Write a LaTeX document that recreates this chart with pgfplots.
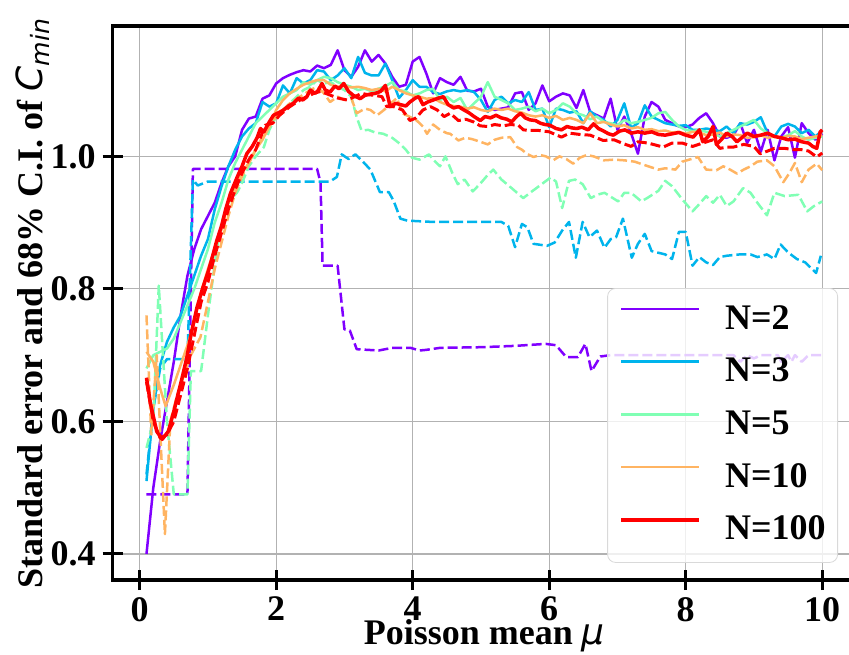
\documentclass[border=0pt]{standalone}
\usepackage{fontspec}
\setmainfont{Liberation Serif}
\newfontfamily\djv{DejaVu Sans}
\usepackage{pgfplots}
\pgfplotsset{compat=1.18}
\definecolor{cA}{RGB}{128,0,255}
\definecolor{cB}{RGB}{0,180,236}
\definecolor{cC}{RGB}{128,255,180}
\definecolor{cD}{RGB}{255,180,98}
\definecolor{cE}{RGB}{255,0,0}
\newcommand{\bigf}{\fontsize{18}{21}\selectfont\bfseries}
\begin{document}
\begin{tikzpicture}
\begin{axis}[
  at={(56.35pt,37pt)}, anchor=south west,
  scale only axis, width=371.65pt, height=277pt,
  xmin=-0.395, xmax=10.495, ymin=0.3607, ymax=1.1967,
  xtick={0,2,4,6,8,10}, ytick={0.4,0.6,0.8,1.0},
  xtick pos=bottom, ytick pos=left,
  tick align=center, major tick length=10pt,
  every tick/.style={black, line width=1.5pt},
  axis line style={line width=1.6pt},
  grid=major, major grid style={draw=black!30, line width=0.6pt},
  /pgf/number format/assume math mode=true,
  ticklabel style={font=\bigf},
  yticklabel style={/pgf/number format/.cd, fixed, fixed zerofill, precision=1},
  xlabel={Poisson mean {\djv\itshape\mdseries μ}},
  ylabel={Standard error and 68\% C.I. of {\djv\itshape\mdseries C\textsubscript{min}}},
  label style={font=\bigf},
  xlabel style={at={(axis description cs:0.5,-0.116)}, anchor=base},
  ylabel style={at={(axis description cs:-0.108,0.5)}, anchor=center},
  legend style={at={(axis description cs:0.9758,0.527)}, anchor=north east,
    draw=black!15, rounded corners=4pt, fill=white, fill opacity=0.8, text opacity=1,
    font=\bigf, inner xsep=6pt, inner ysep=7.3pt, row sep=9.35pt,
    nodes={inner sep=0pt, text height=13pt, text depth=4pt},
    /tikz/every odd column/.append style={column sep=12pt}},
  legend cell align=left,
  legend image code/.code={\draw[#1] (0pt,5.5pt) -- (39pt,5.5pt);},
  every axis plot/.append style={line width=1.25pt, line join=round},
]
% ---------- N=2 ----------
\addplot[cA] coordinates {(0.1,0.40) (0.2,0.50) (0.3,0.57) (0.4,0.63) (0.5,0.69) (0.6,0.76) (0.7,0.82) (0.8,0.86) (0.9,0.89) (1.0,0.91) (1.1,0.93) (1.2,0.96) (1.3,0.985) (1.4,1.00) (1.5,1.04) (1.6,1.057) (1.7,1.06) (1.8,1.087) (1.9,1.092) (2.0,1.110) (2.1,1.118) (2.2,1.123) (2.3,1.127) (2.4,1.130) (2.5,1.128) (2.6,1.137) (2.7,1.133) (2.8,1.138) (2.9,1.160) (3.0,1.130) (3.1,1.120) (3.2,1.135) (3.3,1.160) (3.4,1.143) (3.5,1.153) (3.6,1.140) (3.7,1.120) (3.8,1.105) (3.9,1.108) (4.0,1.143) (4.1,1.150) (4.2,1.125) (4.3,1.095) (4.4,1.118) (4.5,1.112) (4.6,1.108) (4.7,1.120) (4.8,1.099) (4.9,1.098) (5.0,1.102) (5.1,1.075) (5.2,1.070) (5.3,1.072) (5.4,1.074) (5.5,1.095) (5.6,1.097) (5.7,1.070) (5.8,1.080) (5.9,1.107) (6.0,1.083) (6.1,1.090) (6.2,1.095) (6.3,1.092) (6.4,1.073) (6.5,1.100) (6.6,1.067) (6.7,1.062) (6.8,1.057) (6.9,1.087) (7.0,1.040) (7.1,1.060) (7.2,1.035) (7.3,1.004) (7.4,1.060) (7.5,1.082) (7.6,1.075) (7.7,1.055) (7.8,1.050) (7.9,1.045) (8.0,1.044) (8.1,1.048) (8.2,1.058) (8.3,1.065) (8.4,1.050) (8.5,1.030) (8.6,1.028) (8.7,1.032) (8.8,1.050) (8.9,1.020) (9.0,1.040) (9.1,1.007) (9.2,1.040) (9.3,0.994) (9.4,1.030) (9.5,1.044) (9.6,0.998) (9.7,1.050) (9.8,1.035) (9.9,1.025) (10.0,1.034)};
\addlegendentry{N=2}
\addplot[cA, dash pattern=on 5pt off 2pt, forget plot] coordinates {(0.1,0.49) (0.7,0.49) (0.78,0.981) (2.6,0.981) (2.65,0.96) (2.68,0.835) (2.9,0.835) (3.0,0.739) (3.08,0.737) (3.18,0.709) (3.5,0.707) (3.7,0.711) (3.97,0.711) (4.1,0.707) (4.2,0.708) (4.4,0.711) (5.0,0.712) (5.5,0.714) (5.95,0.717) (6.1,0.715) (6.25,0.697) (6.42,0.697) (6.53,0.717) (6.62,0.676) (6.75,0.698) (6.9,0.70) (8.0,0.70) (8.7,0.70) (8.8,0.69) (8.9,0.70) (9.0,0.695) (9.1,0.70) (9.35,0.70) (9.4,0.69) (9.5,0.70) (9.55,0.69) (9.6,0.70) (9.7,0.69) (9.8,0.70) (10.0,0.70)};
% ---------- N=3 ----------
\addplot[cB] coordinates {(0.1,0.51) (0.2,0.62) (0.3,0.685) (0.4,0.72) (0.5,0.742) (0.6,0.760) (0.7,0.79) (0.8,0.82) (0.9,0.85) (1.0,0.875) (1.1,0.92) (1.2,0.955) (1.3,0.985) (1.4,1.010) (1.5,1.030) (1.6,1.042) (1.7,1.050) (1.8,1.082) (1.9,1.075) (2.0,1.080) (2.1,1.107) (2.2,1.095) (2.3,1.118) (2.4,1.110) (2.5,1.115) (2.6,1.130) (2.7,1.128) (2.8,1.115) (2.9,1.122) (3.0,1.133) (3.1,1.118) (3.2,1.150) (3.3,1.126) (3.4,1.122) (3.5,1.122) (3.6,1.140) (3.7,1.115) (3.8,1.088) (3.9,1.100) (4.0,1.115) (4.1,1.105) (4.2,1.105) (4.3,1.097) (4.4,1.094) (4.5,1.098) (4.6,1.100) (4.7,1.098) (4.8,1.100) (4.9,1.097) (5.0,1.085) (5.1,1.067) (5.2,1.085) (5.3,1.090) (5.4,1.080) (5.5,1.085) (5.6,1.082) (5.7,1.097) (5.8,1.070) (5.9,1.072) (6.0,1.044) (6.1,1.072) (6.2,1.070) (6.3,1.066) (6.4,1.068) (6.5,1.050) (6.6,1.068) (6.7,1.060) (6.8,1.055) (6.9,1.045) (7.0,1.055) (7.1,1.080) (7.2,1.043) (7.3,1.050) (7.4,1.077) (7.5,1.060) (7.6,1.055) (7.7,1.050) (7.8,1.048) (7.9,1.046) (8.0,1.047) (8.1,1.040) (8.2,1.040) (8.3,1.042) (8.4,1.040) (8.5,1.038) (8.6,1.045) (8.7,1.035) (8.8,1.050) (8.9,1.048) (9.0,1.052) (9.1,1.059) (9.2,1.035) (9.3,1.030) (9.4,1.045) (9.5,1.049) (9.6,1.045) (9.7,1.035) (9.8,1.040) (9.9,1.030) (10.0,1.039)};
\addlegendentry{N=3}
\addplot[cB, dash pattern=on 5pt off 2pt, forget plot] coordinates {(0.1,0.52) (0.2,0.62) (0.3,0.68) (0.4,0.694) (0.7,0.694) (0.78,0.965) (0.85,0.956) (1.0,0.962) (2.79,0.962) (2.89,0.969) (2.96,1.003) (3.06,0.996) (3.16,1.003) (3.28,0.991) (3.38,0.98) (3.52,0.946) (3.65,0.946) (3.72,0.933) (3.82,0.906) (3.92,0.903) (4.3,0.901) (5.30,0.901) (5.40,0.895) (5.50,0.863) (5.60,0.898) (5.68,0.893) (5.77,0.868) (5.97,0.865) (6.08,0.870) (6.19,0.888) (6.29,0.901) (6.39,0.847) (6.49,0.901) (6.59,0.878) (6.70,0.888) (6.81,0.862) (6.90,0.875) (6.98,0.878) (7.08,0.906) (7.21,0.847) (7.30,0.868) (7.40,0.883) (7.50,0.857) (7.70,0.852) (7.80,0.845) (7.90,0.886) (8.00,0.886) (8.10,0.835) (8.20,0.848) (8.30,0.840) (8.40,0.836) (8.50,0.848) (8.60,0.850) (8.79,0.852) (8.95,0.852) (9.05,0.848) (9.19,0.852) (9.30,0.845) (9.39,0.867) (9.50,0.855) (9.63,0.845) (9.75,0.840) (9.91,0.824) (9.98,0.850)};
% ---------- N=5 ----------
\addplot[cC] coordinates {(0.1,0.68) (0.2,0.70) (0.3,0.705) (0.4,0.71) (0.5,0.725) (0.6,0.75) (0.7,0.775) (0.8,0.80) (0.9,0.83) (1.0,0.86) (1.1,0.90) (1.2,0.93) (1.3,0.965) (1.4,0.99) (1.5,1.01) (1.6,1.03) (1.7,1.05) (1.8,1.06) (1.9,1.07) (2.0,1.08) (2.1,1.09) (2.2,1.095) (2.3,1.10) (2.4,1.112) (2.5,1.108) (2.6,1.115) (2.7,1.12) (2.8,1.118) (2.9,1.112) (3.0,1.108) (3.1,1.105) (3.2,1.10) (3.3,1.102) (3.4,1.098) (3.5,1.102) (3.6,1.106) (3.7,1.112) (3.8,1.100) (3.9,1.098) (4.0,1.092) (4.1,1.095) (4.2,1.100) (4.3,1.102) (4.4,1.085) (4.5,1.090) (4.6,1.082) (4.7,1.088) (4.8,1.070) (4.9,1.080) (5.0,1.090) (5.1,1.112) (5.2,1.090) (5.3,1.085) (5.4,1.080) (5.5,1.070) (5.6,1.072) (5.7,1.075) (5.8,1.068) (5.9,1.072) (6.0,1.065) (6.1,1.070) (6.2,1.080) (6.3,1.075) (6.4,1.065) (6.5,1.062) (6.6,1.056) (6.7,1.060) (6.8,1.052) (6.9,1.050) (7.0,1.047) (7.1,1.055) (7.2,1.050) (7.3,1.052) (7.4,1.055) (7.5,1.058) (7.6,1.065) (7.7,1.067) (7.8,1.055) (7.9,1.045) (8.0,1.040) (8.1,1.038) (8.2,1.040) (8.3,1.037) (8.4,1.035) (8.5,1.030) (8.6,1.035) (8.7,1.040) (8.8,1.045) (8.9,1.050) (9.0,1.055) (9.1,1.042) (9.2,1.035) (9.3,1.030) (9.4,1.028) (9.5,1.032) (9.6,1.038) (9.7,1.030) (9.8,1.025) (9.9,1.028) (10.0,1.030)};
\addlegendentry{N=5}
\addplot[cC, dash pattern=on 5pt off 2pt, forget plot] coordinates {(0.1,0.56) (0.2,0.60) (0.28,0.805) (0.4,0.60) (0.5,0.49) (0.7,0.49) (0.75,0.676) (0.9,0.676) (1.0,0.76) (1.13,0.86) (1.2,0.90) (1.3,0.93) (1.43,0.946) (1.5,0.96) (1.6,0.985) (1.7,1.00) (1.82,1.014) (1.9,1.04) (2.0,1.06) (2.1,1.07) (2.2,1.08) (2.3,1.09) (2.4,1.10) (2.5,1.105) (2.6,1.115) (2.7,1.11) (2.8,1.112) (2.9,1.105) (3.0,1.10) (3.1,1.09) (3.18,1.059) (3.25,1.039) (3.35,1.040) (3.45,1.036) (3.57,1.034) (3.7,1.028) (3.8,1.020) (3.9,1.010) (3.99,0.998) (4.1,0.995) (4.24,1.003) (4.3,0.995) (4.4,0.985) (4.48,1.000) (4.58,0.975) (4.66,0.958) (4.76,0.965) (4.88,0.947) (5.0,0.960) (5.1,0.972) (5.18,0.980) (5.3,0.965) (5.45,0.952) (5.62,0.937) (5.72,0.945) (5.85,0.955) (6.02,0.968) (6.1,0.962) (6.19,0.922) (6.29,0.963) (6.38,0.965) (6.49,0.958) (6.61,0.937) (6.7,0.942) (6.81,0.945) (7.01,0.932) (7.1,0.945) (7.2,0.945) (7.35,0.932) (7.45,0.938) (7.6,0.948) (7.70,0.963) (7.8,0.955) (7.95,0.935) (8.10,0.917) (8.2,0.928) (8.3,0.940) (8.4,0.930) (8.50,0.942) (8.6,0.925) (8.7,0.932) (8.84,0.952) (8.95,0.945) (9.05,0.930) (9.19,0.911) (9.3,0.945) (9.45,0.940) (9.65,0.942) (9.78,0.917) (9.88,0.925) (10.0,0.932)};
% ---------- N=10 ----------
\addplot[cD] coordinates {(0.1,0.705) (0.2,0.69) (0.3,0.65) (0.38,0.623) (0.5,0.655) (0.6,0.685) (0.7,0.715) (0.8,0.75) (0.9,0.795) (1.0,0.83) (1.1,0.86) (1.2,0.89) (1.3,0.93) (1.4,0.955) (1.5,0.975) (1.6,0.99) (1.7,1.01) (1.8,1.025) (1.9,1.045) (2.0,1.07) (2.1,1.085) (2.2,1.095) (2.3,1.102) (2.4,1.108) (2.5,1.112) (2.6,1.115) (2.7,1.115) (2.8,1.108) (2.9,1.105) (3.0,1.106) (3.1,1.104) (3.2,1.105) (3.3,1.103) (3.4,1.100) (3.5,1.102) (3.6,1.098) (3.7,1.105) (3.8,1.100) (3.9,1.095) (4.0,1.092) (4.1,1.090) (4.2,1.087) (4.3,1.088) (4.4,1.082) (4.5,1.078) (4.6,1.076) (4.7,1.075) (4.8,1.072) (4.9,1.074) (5.0,1.070) (5.1,1.068) (5.2,1.072) (5.3,1.070) (5.4,1.072) (5.5,1.068) (5.6,1.066) (5.7,1.062) (5.8,1.060) (5.9,1.062) (6.0,1.058) (6.1,1.061) (6.2,1.055) (6.3,1.058) (6.4,1.055) (6.5,1.050) (6.6,1.065) (6.7,1.050) (6.8,1.052) (6.9,1.048) (7.0,1.045) (7.1,1.047) (7.2,1.042) (7.3,1.044) (7.4,1.040) (7.5,1.041) (7.6,1.038) (7.7,1.039) (7.8,1.036) (7.9,1.037) (8.0,1.034) (8.1,1.037) (8.2,1.036) (8.3,1.032) (8.4,1.033) (8.5,1.036) (8.6,1.030) (8.7,1.033) (8.8,1.032) (8.9,1.028) (9.0,1.029) (9.1,1.032) (9.2,1.028) (9.3,1.030) (9.4,1.027) (9.5,1.031) (9.6,1.030) (9.7,1.026) (9.8,1.028) (9.9,1.030) (10.0,1.032)};
\addlegendentry{N=10}
\addplot[cD, dash pattern=on 5pt off 2pt, forget plot] coordinates {(0.1,0.76) (0.17,0.58) (0.25,0.70) (0.37,0.43) (0.45,0.60) (0.55,0.64) (0.65,0.67) (0.75,0.70) (0.89,0.727) (1.0,0.78) (1.1,0.83) (1.2,0.87) (1.3,0.91) (1.4,0.945) (1.5,0.97) (1.6,0.99) (1.7,1.01) (1.8,1.03) (1.9,1.045) (2.0,1.06) (2.1,1.07) (2.2,1.08) (2.35,1.09) (2.5,1.10) (2.6,1.105) (2.7,1.095) (2.79,1.082) (2.9,1.090) (3.0,1.085) (3.1,1.088) (3.18,1.065) (3.3,1.072) (3.38,1.070) (3.48,1.062) (3.58,1.070) (3.68,1.080) (3.77,1.088) (3.85,1.065) (3.95,1.060) (4.06,1.054) (4.15,1.045) (4.21,1.034) (4.3,1.048) (4.4,1.040) (4.5,1.035) (4.55,1.034) (4.67,1.024) (4.77,1.028) (4.87,1.026) (4.99,1.022) (5.1,1.018) (5.2,1.025) (5.3,1.028) (5.43,1.029) (5.53,1.014) (5.6,1.010) (5.67,1.004) (5.77,0.999) (5.87,1.002) (5.95,1.000) (6.06,0.994) (6.15,1.000) (6.25,0.996) (6.35,0.989) (6.45,0.998) (6.55,1.002) (6.65,1.000) (6.8,0.994) (6.95,0.995) (7.1,0.994) (7.25,0.992) (7.48,0.984) (7.6,0.980) (7.7,0.982) (7.85,0.980) (7.95,0.992) (8.05,0.995) (8.18,0.999) (8.3,0.980) (8.45,0.979) (8.55,0.985) (8.65,0.980) (8.75,0.974) (8.85,0.980) (8.95,0.985) (9.05,0.992) (9.19,0.994) (9.3,0.985) (9.43,0.961) (9.52,0.975) (9.6,0.990) (9.70,0.961) (9.8,0.980) (9.92,0.989) (10.0,0.979)};
% ---------- N=100 ----------
\addplot[cE, line width=1.75pt] coordinates {(0.1,0.666) (0.16,0.626) (0.25,0.585) (0.33,0.573) (0.42,0.585) (0.5,0.615) (0.55,0.636) (0.62,0.665) (0.69,0.696) (0.76,0.735) (0.84,0.772) (0.92,0.80) (1.01,0.828) (1.07,0.85) (1.13,0.873) (1.2,0.895) (1.26,0.92) (1.33,0.944) (1.43,0.969) (1.5,0.985) (1.57,1.004) (1.65,1.015) (1.72,1.028) (1.77,1.042) (1.82,1.037) (1.9,1.052) (1.96,1.062) (2.04,1.066) (2.11,1.070) (2.18,1.076) (2.25,1.080) (2.33,1.088) (2.39,1.085) (2.45,1.090) (2.5,1.100) (2.57,1.095) (2.62,1.100) (2.67,1.110) (2.72,1.100) (2.79,1.097) (2.86,1.106) (2.92,1.102) (2.99,1.110) (3.06,1.098) (3.13,1.092) (3.23,1.087) (3.3,1.092) (3.38,1.094) (3.45,1.095) (3.53,1.098) (3.60,1.107) (3.67,1.075) (3.75,1.080) (3.82,1.078) (3.9,1.076) (3.96,1.082) (4.04,1.088) (4.09,1.090) (4.15,1.078) (4.22,1.082) (4.3,1.085) (4.38,1.088) (4.45,1.090) (4.52,1.078) (4.6,1.073) (4.67,1.075) (4.75,1.070) (4.82,1.066) (4.9,1.060) (4.99,1.054) (5.06,1.060) (5.14,1.058) (5.22,1.062) (5.3,1.058) (5.38,1.056) (5.45,1.052) (5.52,1.060) (5.58,1.065) (5.65,1.058) (5.72,1.055) (5.8,1.054) (5.87,1.050) (5.94,1.048) (6.01,1.047) (6.1,1.042) (6.18,1.040) (6.26,1.045) (6.33,1.043) (6.4,1.042) (6.48,1.044) (6.57,1.040) (6.65,1.049) (6.72,1.042) (6.8,1.038) (6.87,1.034) (6.94,1.032) (7.03,1.038) (7.11,1.040) (7.2,1.035) (7.3,1.037) (7.4,1.035) (7.5,1.037) (7.6,1.033) (7.7,1.032) (7.8,1.034) (7.9,1.036) (8.0,1.032) (8.11,1.029) (8.2,1.040) (8.25,1.022) (8.33,1.030) (8.40,1.045) (8.45,1.018) (8.52,1.025) (8.6,1.035) (8.68,1.030) (8.75,1.022) (8.82,1.028) (8.9,1.035) (9.0,1.030) (9.1,1.032) (9.2,1.035) (9.3,1.030) (9.4,1.028) (9.5,1.025) (9.6,1.026) (9.7,1.022) (9.8,1.020) (9.86,1.015) (9.92,1.012) (9.97,1.037) (10.0,1.040)};
\addlegendentry{N=100}
\addplot[cE, line width=1.5pt, dash pattern=on 5pt off 2pt, forget plot] coordinates {(0.1,0.66) (0.2,0.60) (0.3,0.575) (0.4,0.58) (0.5,0.60) (0.6,0.64) (0.7,0.68) (0.8,0.73) (0.9,0.78) (1.0,0.81) (1.1,0.85) (1.2,0.885) (1.3,0.92) (1.4,0.95) (1.5,0.975) (1.6,0.995) (1.7,1.01) (1.84,1.047) (1.95,1.05) (2.05,1.062) (2.2,1.075) (2.35,1.085) (2.55,1.095) (2.65,1.098) (2.8,1.092) (2.9,1.088) (3.04,1.085) (3.15,1.090) (3.25,1.095) (3.35,1.093) (3.45,1.092) (3.55,1.090) (3.62,1.075) (3.72,1.075) (3.85,1.070) (3.96,1.054) (4.05,1.058) (4.15,1.070) (4.26,1.075) (4.36,1.070) (4.46,1.060) (4.55,1.065) (4.67,1.054) (4.78,1.056) (4.89,1.052) (4.99,1.046) (5.1,1.045) (5.2,1.048) (5.33,1.046) (5.43,1.048) (5.55,1.047) (5.62,1.040) (5.72,1.039) (5.85,1.039) (6.0,1.037) (6.18,1.029) (6.3,1.035) (6.45,1.033) (6.6,1.032) (6.79,1.024) (6.95,1.025) (7.09,1.019) (7.2,1.015) (7.3,1.022) (7.45,1.020) (7.67,1.014) (7.8,1.020) (7.95,1.020) (8.1,1.015) (8.25,1.020) (8.40,1.025) (8.50,1.012) (8.6,1.014) (8.7,1.014) (8.85,1.018) (9.0,1.015) (9.09,1.004) (9.2,1.008) (9.3,1.012) (9.45,1.012) (9.6,1.010) (9.7,1.010) (9.8,1.008) (9.92,0.999) (10.0,1.005)};
\end{axis}
\pgfresetboundingbox
\useasboundingbox (0pt,0pt) rectangle (424.5pt,327pt);
\end{tikzpicture}
\end{document}
